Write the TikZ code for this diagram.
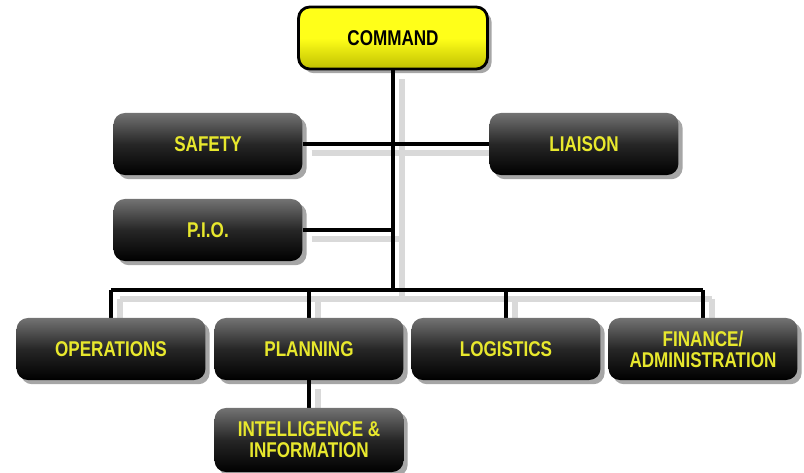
\documentclass[tikz,border=0pt]{standalone}
\usepackage{fontspec}
\newfontfamily\orgfont{Liberation Sans}[FakeStretch=0.8]
\usepackage{tikz}
\usetikzlibrary{backgrounds,shadows,positioning}
\definecolor{orgyellow}{RGB}{232,232,45}
\definecolor{cmdyellow}{RGB}{255,255,25}

\tikzset{
  unit/.style={rounded corners=8pt, minimum width=4.72cm, minimum height=1.55cm,
    top color=black!55, bottom color=black, middle color=black!85,
    text=orgyellow, font=\orgfont\bfseries\fontsize{15.2}{15}\selectfont, align=center,
    drop shadow={shadow xshift=3pt, shadow yshift=-3pt, fill=black, opacity=0.35}},
  chief/.style={unit, top color=cmdyellow, bottom color=yellow!75!black, middle color=cmdyellow,
    text=black, draw=black, line width=2pt},
  wire/.style={line width=2.8pt, black},
  wireshadow/.style={line width=4.5pt, gray!30},
}

% all connectors, drawn twice (shadow and line)
\newcommand{\orgwires}[1]{
  \draw[#1] (cmd.south) -- (cmd.south |- bus);
  \draw[#1] (safety.east) -- (liaison.west);
  \draw[#1] (pio.east) -- (cmd.south |- pio.east);
  \draw[#1] (ops.north |- bus) -- (fin.north |- bus);
  \draw[#1] (ops.north |- bus) -- (ops.north);
  \draw[#1] (plan.north |- bus) -- (plan.north);
  \draw[#1] (log.north |- bus) -- (log.north);
  \draw[#1] (fin.north |- bus) -- (fin.north);
  \draw[#1] (plan.south) -- (intel.north);
}

\begin{document}
\begin{tikzpicture}[x=0.025cm, y=-0.025cm]
\useasboundingbox (0,0) rectangle (804,473);

\node[chief] (cmd) at (393,38) {COMMAND};
\node[unit] (safety) at (208,144) {SAFETY};
\node[unit] (liaison) at (584,144) {LIAISON};
\node[unit] (pio) at (208,230) {P.I.O.};

\node[unit] (ops) at (111,349) {OPERATIONS};
\node[unit] (plan) at (309,349) {PLANNING};
\node[unit] (log) at (506,349) {LOGISTICS};
\node[unit] (fin) at (703,349) {FINANCE/\\ADMINISTRATION};
\node[unit, minimum height=1.6cm] (intel) at (309,440) {INTELLIGENCE \&\\INFORMATION};

\coordinate (bus) at (393,290);

\begin{scope}[on background layer]
  \begin{scope}[transform canvas={shift={(0.22cm,-0.22cm)}}]
    \orgwires{wireshadow}
  \end{scope}
  \orgwires{wire}
\end{scope}
\end{tikzpicture}
\end{document}
